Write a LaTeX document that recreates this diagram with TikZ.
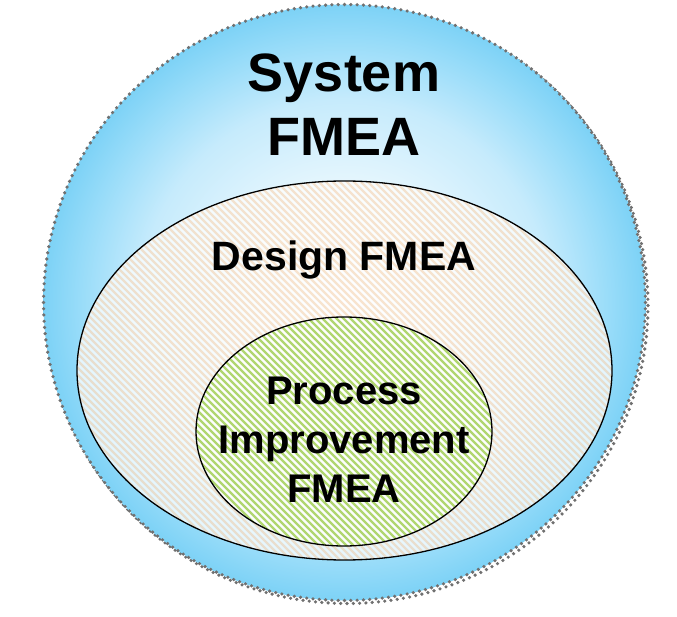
\documentclass[tikz,border=0pt]{standalone}
\usepackage{fontspec}
\setmainfont{Liberation Sans}
\definecolor{skyedge}{RGB}{125,210,246}
\definecolor{skyouter}{RGB}{152,220,249}
\definecolor{skymid}{RGB}{198,235,252}
\definecolor{skylight}{RGB}{238,249,254}
\definecolor{peach}{RGB}{238,180,120}
\definecolor{leaf}{RGB}{176,214,112}
\definecolor{dotgray}{RGB}{112,112,112}
\pgfdeclareradialshading{skyball}{\pgfpoint{0bp}{0bp}}{color(0bp)=(white); color(8bp)=(skylight); color(17bp)=(skymid); color(22bp)=(skyouter); color(25bp)=(skyedge); color(50bp)=(skyedge)}
\begin{document}
\begin{tikzpicture}[x=1pt, y=-1pt, line join=round,
        dot/.style={fill=dotgray},
        rim/.style={line width=1.3pt, black},
        hatch/.style={line width=2.4pt},
        lbl/.style={inner sep=0pt, align=center, font=\bfseries\fontsize{40}{49}\selectfont}]
            \useasboundingbox (0,0) rectangle (677,617);
            % outer ball with its dotted rim and shadow
            \foreach \a in {0,1.2,...,358.8}
                \fill[dot] (347,305.5) ++(\a:301 and 298) circle[radius=1.8pt];
            \shade[shading=skyball] (344.5,302.5) ellipse [x radius=301pt, y radius=298pt];
            \foreach \a in {0,1.2,...,358.8}
                \fill[dot] (344.5,302.5) ++(\a:301 and 298) circle[radius=1.8pt];
            % design ellipse
            \fill[white, fill opacity=0.75] (344.5,370.5) ellipse [x radius=267.5pt, y radius=189.5pt];
            \begin{scope}
                \clip (344.5,370.5) ellipse [x radius=267.5pt, y radius=189.5pt];
                \foreach \k in {-330,-323,...,620}
                    \draw[hatch, peach, draw opacity=0.35] (\k,170) -- ++(400,400);
            \end{scope}
            \draw[rim] (344.5,370.5) ellipse [x radius=267.5pt, y radius=189.5pt];
            % process ellipse
            \fill[white, fill opacity=0.8] (344,431.5) ellipse [x radius=148pt, y radius=114.5pt];
            \begin{scope}
                \clip (344,431.5) ellipse [x radius=148pt, y radius=114.5pt];
                \foreach \k in {-50,-43,...,500}
                    \draw[hatch, leaf] (\k,310) -- ++(240,240);
            \end{scope}
            \draw[rim] (344,431.5) ellipse [x radius=148pt, y radius=114.5pt];
            \node[lbl, font=\bfseries\fontsize{54}{64}\selectfont] (system) at (344,105) {System\\FMEA};
            \node[lbl, anchor=base, font=\bfseries\fontsize{41}{49}\selectfont] (design) at (344,271) {Design FMEA};
            \node[lbl] (process) at (344,440) {Process\\Improvement\\FMEA};
        \end{tikzpicture}
\end{document}
